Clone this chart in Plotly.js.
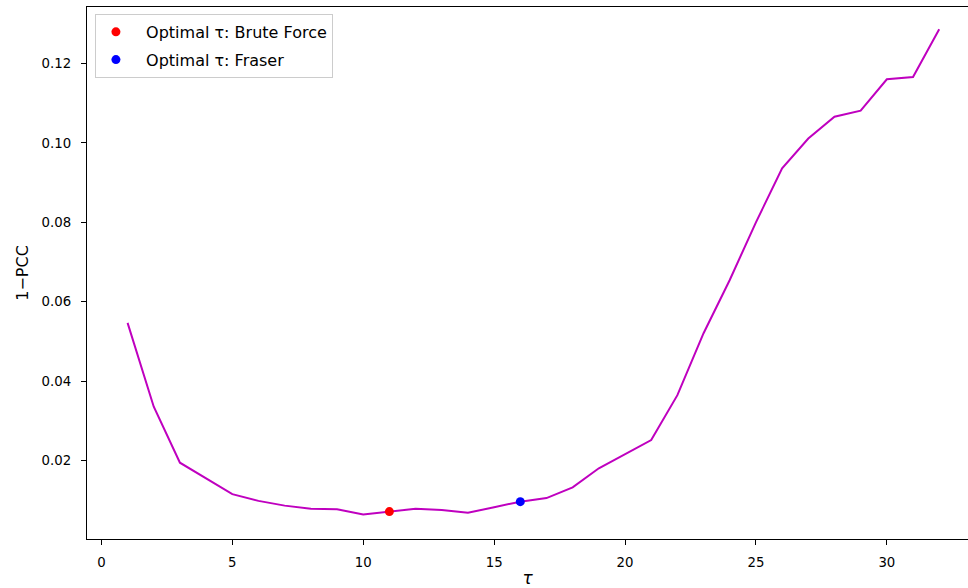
<!DOCTYPE html>
<html>
<head>
<meta charset="utf-8">
<script src="https://cdn.plot.ly/plotly-3.0.1.min.js"></script>
<style>html,body{margin:0;padding:0;overflow:hidden;background:#fff;}</style>
</head>
<body>
<div id="chart" style="width:968px;height:588px;"></div>
<script>
const tau = [1,2,3,4,5,6,7,8,9,10,11,12,13,14,15,16,17,18,19,20,21,22,23,24,25,26,27,28,29,30,31,32];
const onePCC = [0.0547,0.0336,0.0195,0.0155,0.0116,0.0099,0.0087,0.0079,0.0078,0.0065,0.0072,0.0079,0.0076,0.0069,0.0083,0.0097,0.0106,0.0133,0.0181,0.0217,0.0252,0.0365,0.0521,0.0655,0.0800,0.0936,0.1011,0.1066,0.1081,0.1160,0.1166,0.1286];
const bruteX = [11], bruteY = [0.0072];
const fraserX = [16], fraserY = [0.0097];
const tickVals = [0,5,10,15,20,25,30];
const yTickVals = [0.02,0.04,0.06,0.08,0.10,0.12];
const yTickText = ['0.02','0.04','0.06','0.08','0.10','0.12'];
const legendNames = ['Optimal τ: Brute Force', 'Optimal τ: Fraser'];

const font = {family: 'DejaVu Sans', size: 13.3, color: '#000'};
const legFont = {family: 'DejaVu Sans', size: 16, color: '#000'};
const traces = [
  {x: tau, y: onePCC, mode: 'lines', line: {color: '#bf00bf', width: 2}, showlegend: false, hoverinfo: 'skip'},
  {x: bruteX, y: bruteY, mode: 'markers', name: '\u00a0\u00a0' + legendNames[0], marker: {color: '#ff0000', size: 9}, legendgroup: 'a'},
  {x: fraserX, y: fraserY, mode: 'markers', name: '\u00a0\u00a0' + legendNames[1], marker: {color: '#0000ff', size: 9}, legendgroup: 'b'}
];
const layout = {
  width: 968, height: 588,
  margin: {l: 87, r: 0, t: 7, b: 49, pad: 0},
  paper_bgcolor: '#fff', plot_bgcolor: '#fff',
  font: font,
  showlegend: true,
  legend: {x: 0.009, y: 0.987, xanchor: 'left', yanchor: 'top', bgcolor: 'rgba(255,255,255,0.8)', bordercolor: '#cccccc', borderwidth: 1, font: legFont, tracegroupgap: 4},
  xaxis: {
    range: [-0.55, 33.1], tickvals: tickVals, ticks: 'outside', ticklen: 5, tickwidth: 1, tickcolor: '#000',
    showline: true, linecolor: '#000', linewidth: 1.2, mirror: true, showgrid: false, zeroline: false,
    tickfont: font, ticklabelstandoff: 6,
    title: {text: 'τ', font: {family: 'DejaVu Sans', size: 17, style: 'italic', color: '#000'}, standoff: 6}
  },
  yaxis: {
    range: [0.0003, 0.1342], tickvals: yTickVals, ticktext: yTickText, ticks: 'outside', ticklen: 5, tickwidth: 1, tickcolor: '#000',
    showline: true, linecolor: '#000', linewidth: 1.2, showgrid: false, zeroline: false,
    tickfont: font, ticklabelstandoff: 7,
    title: {text: '1−PCC', font: {family: 'DejaVu Sans', size: 16, color: '#000'}, standoff: 9}
  }
};
Plotly.newPlot('chart', traces, layout, {displayModeBar: false, staticPlot: true});
</script>
</body>
</html>
